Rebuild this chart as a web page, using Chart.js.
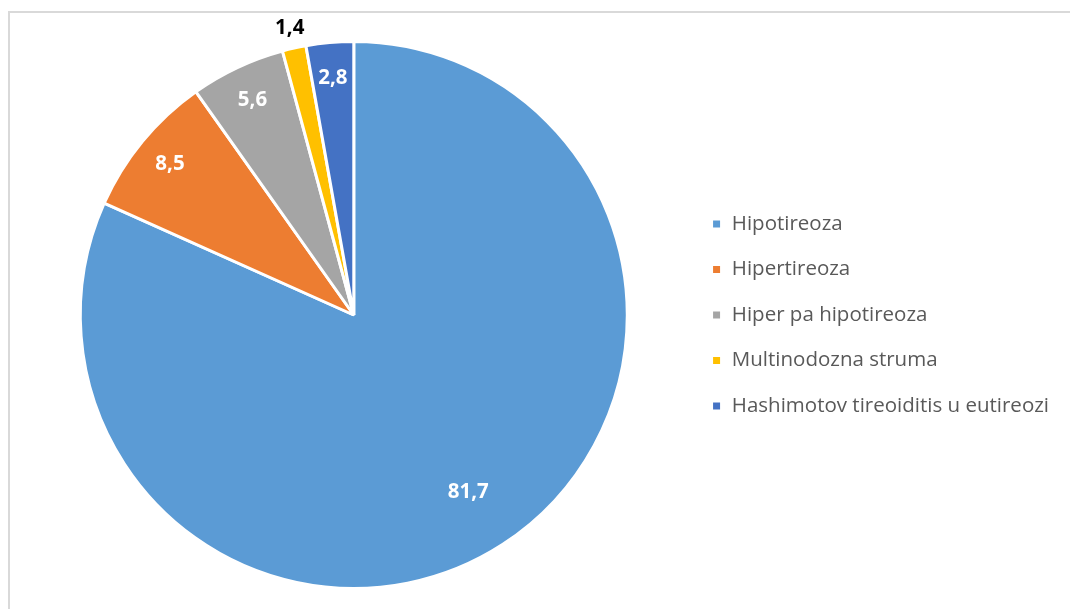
<!DOCTYPE html>
<html>
<head>
<meta charset="utf-8">
<script src="https://cdn.jsdelivr.net/npm/chart.js@4"></script>
<style>
  html, body { margin: 0; padding: 0; background: #fff; }
  #wrap { width: 1070px; height: 609px; position: relative; }
</style>
</head>
<body>
<div id="wrap"><canvas id="mychart" width="1070" height="609"></canvas></div>
<script>
const categories = ['Hipotireoza', 'Hipertireoza', 'Hiper pa hipotireoza', 'Multinodozna struma', 'Hashimotov tireoiditis u eutireozi'];
const values = [81.7, 8.5, 5.6, 1.4, 2.8];
const colors = ['#5B9BD5', '#ED7D31', '#A5A5A5', '#FFC000', '#4472C4'];

// frame line like the office chart area border
const framePlugin = {
  id: 'frame',
  beforeDraw(chart) {
    const ctx = chart.ctx;
    ctx.save();
    ctx.strokeStyle = '#d9d9d9';
    ctx.lineWidth = 2;
    ctx.beginPath();
    ctx.moveTo(9, chart.height);
    ctx.lineTo(9, 12);
    ctx.lineTo(chart.width, 12);
    ctx.stroke();
    ctx.restore();
  }
};

// value labels, written with a comma as decimal sign
const labelPlugin = {
  id: 'sliceLabels',
  afterDatasetsDraw(chart) {
    const ctx = chart.ctx;
    const meta = chart.getDatasetMeta(0);
    ctx.save();
    ctx.font = 'bold 20.5px "Open Sans"';
    ctx.textAlign = 'center';
    ctx.textBaseline = 'middle';
    meta.data.forEach((arc, i) => {
      const mid = (arc.startAngle + arc.endAngle) / 2;
      const small = values[i] < 2;
      const r = small ? arc.outerRadius + 20 : arc.outerRadius * (i === 0 ? 0.77 : 0.87);
      const x = arc.x + Math.cos(mid) * r;
      const y = arc.y + Math.sin(mid) * r;
      ctx.fillStyle = small ? '#000' : '#fff';
      ctx.fillText(values[i].toFixed(1).replace('.', ','), x, y);
    });
    ctx.restore();
  }
};

new Chart(document.getElementById('mychart'), {
  type: 'pie',
  data: {
    labels: categories,
    datasets: [{
      data: values,
      backgroundColor: colors,
      borderColor: '#fff',
      borderWidth: 3
    }]
  },
  options: {
    responsive: false,
    animation: false,
    layout: { padding: { top: 40, bottom: 19, left: 21, right: 11 } },
    plugins: {
      tooltip: { enabled: false },
      legend: {
        position: 'right',
        labels: {
          boxWidth: 10,
          boxHeight: 10,
          padding: 25,
          color: '#595959',
          font: { family: '"Open Sans"', size: 20.5 }
        }
      }
    }
  },
  plugins: [framePlugin, labelPlugin]
});
</script>
</body>
</html>
